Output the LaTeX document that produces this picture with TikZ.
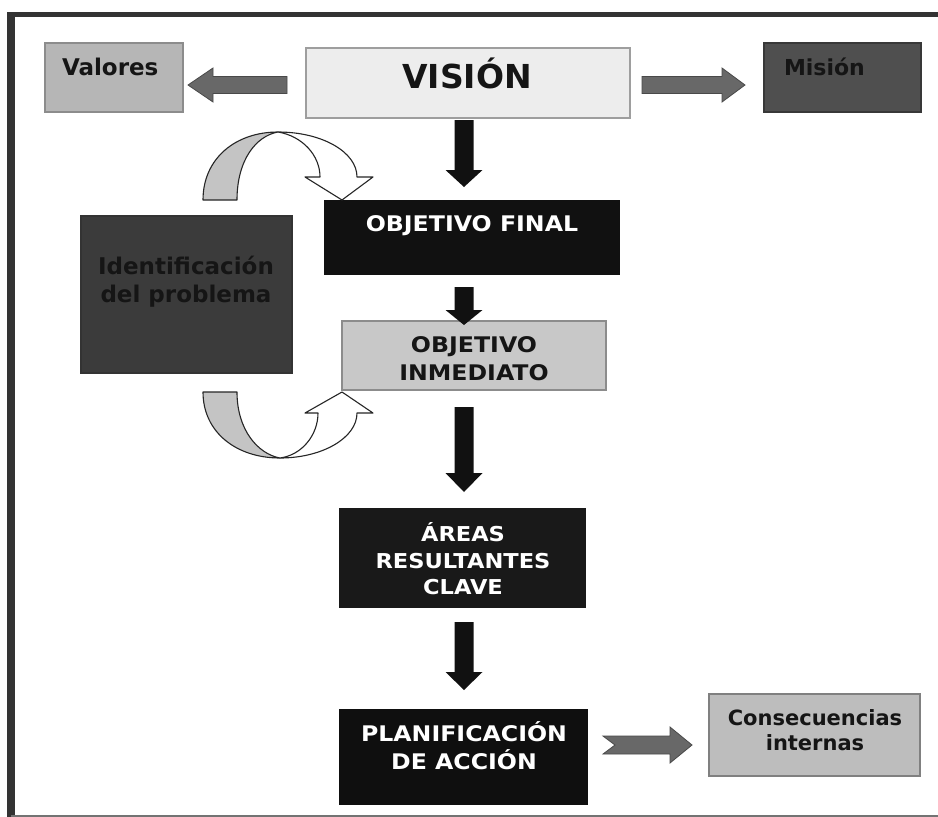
\documentclass[tikz,border=0pt]{standalone}
\usepackage{fontspec}
\usetikzlibrary{calc}
\newfontfamily\vfont{DejaVu Sans}
\newfontfamily\vcaps{DejaVu Sans}[FakeStretch=1.1]
\definecolor{frameC}{HTML}{333333}
\definecolor{valC}{HTML}{B6B6B6}
\definecolor{visC}{HTML}{EDEDED}
\definecolor{misC}{HTML}{4F4F4F}
\definecolor{idC}{HTML}{3B3B3B}
\definecolor{inmC}{HTML}{C8C8C8}
\definecolor{conC}{HTML}{BDBDBD}
\definecolor{blkC}{HTML}{111111}
\definecolor{garrC}{HTML}{686868}
\definecolor{curvC}{HTML}{C4C4C4}
\definecolor{txtC}{HTML}{151515}

\newcommand\downarrowblk[6]{%
  \path[#1] let \p1=(#2), \p2=(#3) in
   ({\x1-#4},\y1) -- ({\x1+#4},\y1) -- ({\x1+#4},{\y2+#6}) -- ({\x1+#5},{\y2+#6})
   -- (\x1,\y2) -- ({\x1-#5},{\y2+#6}) -- ({\x1-#4},{\y2+#6}) -- cycle;}
\newcommand\sidearrowblk[7]{% style, from, to, shaft half, head half, signed head len, notch
  \path[#1] let \p1=(#2), \p2=(#3) in
   (\x1,{\y1+#4}) -- ({\x2+#6},{\y1+#4}) -- ({\x2+#6},{\y1+#5}) -- (\x2,\y1)
   -- ({\x2+#6},{\y1-#5}) -- ({\x2+#6},{\y1-#4}) -- (\x1,{\y1-#4}) -- ({\x1+#7},\y1) -- cycle;}

\tikzset{
  box/.style={rectangle, inner sep=0pt, outer sep=0pt, line width=1.3pt},
  lab/.style={inner sep=0pt, outer sep=0pt},
  capsw/.style={lab, text=white, font=\vcaps\bfseries\fontsize{21.5}{26}\selectfont},
  capsb/.style={lab, text=txtC, font=\vcaps\bfseries\fontsize{21.5}{26}\selectfont},
  plainb/.style={lab, text=txtC, font=\vfont\bfseries\fontsize{23}{27}\selectfont},
  blk/.style={fill=blkC},
  garr/.style={fill=garrC, draw=garrC!70!black, line width=0.8pt},
  curvg/.style={fill=curvC, draw=black!85, line width=1.1pt, line join=round},
  curvw/.style={fill=white, draw=black!85, line width=1.1pt, line join=round}
}

\begin{document}
\begin{tikzpicture}[x=1pt,y=-1pt]
\useasboundingbox (0,0) rectangle (938,817);
\fill[white] (0,0) rectangle (938,817);

% frame
\draw[frameC, line width=5pt] (7,14.5) -- (938,14.5);
\draw[frameC, line width=7.5pt] (11,12) -- (11,817);
\draw[black!55, line width=1.5pt] (11,816) -- (938,816);

% boxes
\node[box, fill=valC, draw=black!45, minimum width=138pt, minimum height=69pt] (valores) at (114,77.5) {};
\node[box, fill=visC, draw=black!38, minimum width=324pt, minimum height=70pt] (vision) at (468,83) {};
\node[box, fill=misC, draw=black!78, minimum width=157pt, minimum height=69pt] (mision) at (842.5,77.5) {};
\node[box, fill=blkC, draw=blkC, minimum width=294pt, minimum height=73pt] (objfinal) at (472,237.5) {};
\node[box, fill=inmC, draw=black!45, minimum width=264pt, minimum height=69pt] (objinm) at (474,355.5) {};
\node[box, fill=idC, draw=black!80, minimum width=211pt, minimum height=157pt] (ident) at (186.5,294.5) {};
\node[box, fill=black!90, draw=black!90, minimum width=245pt, minimum height=98pt] (areas) at (462.5,558) {};
\node[box, fill=black!94, draw=black!94, minimum width=247pt, minimum height=94pt] (plan) at (463.5,757) {};
\node[box, fill=conC, draw=black!50, minimum width=211pt, minimum height=82pt] (cons) at (814.5,735) {};

% texts
\node[plainb, anchor=base west] (tval) at (62,75) {Valores};
\node[lab, text=txtC, font=\vfont\bfseries\fontsize{33}{38}\selectfont, anchor=base] (tvis) at (467,88) {VISIÓN};
\node[plainb, font=\vfont\bfseries\fontsize{22}{26}\selectfont, anchor=base west] (tmis) at (784,75) {Misión};
\node[capsw, anchor=base] (tfin) at (472,231) {OBJETIVO FINAL};
\node[capsb, anchor=base] (tinm1) at (474,352) {OBJETIVO};
\node[capsb, anchor=base] (tinm2) at (474,380) {INMEDIATO};
\node[plainb, anchor=base] (tid1) at (186,274) {Identificación};
\node[plainb, anchor=base] (tid2) at (186,302) {del problema};
\node[capsw, font=\vcaps\bfseries\fontsize{20.5}{25}\selectfont, anchor=base] (tar1) at (463,541) {ÁREAS};
\node[capsw, font=\vcaps\bfseries\fontsize{20.5}{25}\selectfont, anchor=base] (tar2) at (463,568) {RESULTANTES};
\node[capsw, font=\vcaps\bfseries\fontsize{20.5}{25}\selectfont, anchor=base] (tar3) at (463,594) {CLAVE};
\node[capsw, anchor=base] (tpl1) at (464,741) {PLANIFICACIÓN};
\node[capsw, anchor=base] (tpl2) at (464,769) {DE ACCIÓN};
\node[plainb, font=\vfont\bfseries\fontsize{21}{25}\selectfont, anchor=base] (tco1) at (815,725) {Consecuencias};
\node[plainb, font=\vfont\bfseries\fontsize{21}{25}\selectfont, anchor=base] (tco2) at (815,750) {internas};

% grey block arrows
\sidearrowblk{garr}{$(vision.west)+(-19,2)$}{$(valores.east)+(5,0)$}{8.5pt}{17pt}{25pt}{0pt}
\sidearrowblk{garr}{$(vision.east)+(12,2)$}{$(mision.west)+(-19,0)$}{8.5pt}{17pt}{-23pt}{0pt}
\sidearrowblk{garr}{$(plan.east)+(16,-12)$}{$(cons.west)+(-17,0)$}{9pt}{18pt}{-22pt}{12pt}

% black down arrows
\downarrowblk{blk}{$(vision.south)+(-4,2)$}{$(objfinal.north)+(0,-14)$}{9.5pt}{18.5pt}{17pt}
\downarrowblk{blk}{$(objfinal.south)+(-8,13)$}{$(objinm.north)+(0,4)$}{9.5pt}{18.5pt}{15pt}
\downarrowblk{blk}{$(objinm.south)+(-10,17)$}{$(areas.north)+(0,-17)$}{9.5pt}{18.5pt}{19pt}
\downarrowblk{blk}{$(areas.south)+(1.5,15)$}{$(plan.north)+(0,-20)$}{9.5pt}{18.5pt}{18pt}

% curved arrows (feedback loop around the problem box)
\path[curvg] (203,200) .. controls (203,158) and (236,132) .. (278,132)
   .. controls (256,136) and (237,160) .. (237,200) -- cycle;
\path[curvw] (278,132) .. controls (322,132) and (357,152) .. (357,177) -- (373,177)
   -- (342,200) -- (305,177) -- (320,177) .. controls (320,155) and (302,136) .. (278,132) -- cycle;
\path[curvg] (203,392) .. controls (203,432) and (236,458) .. (280,458)
   .. controls (258,454) and (237,430) .. (237,392) -- cycle;
\path[curvw] (280,458) .. controls (322,458) and (357,438) .. (357,413) -- (373,413)
   -- (342,392) -- (305,413) -- (318,413) .. controls (318,435) and (302,455) .. (280,458) -- cycle;
\end{tikzpicture}
\end{document}
